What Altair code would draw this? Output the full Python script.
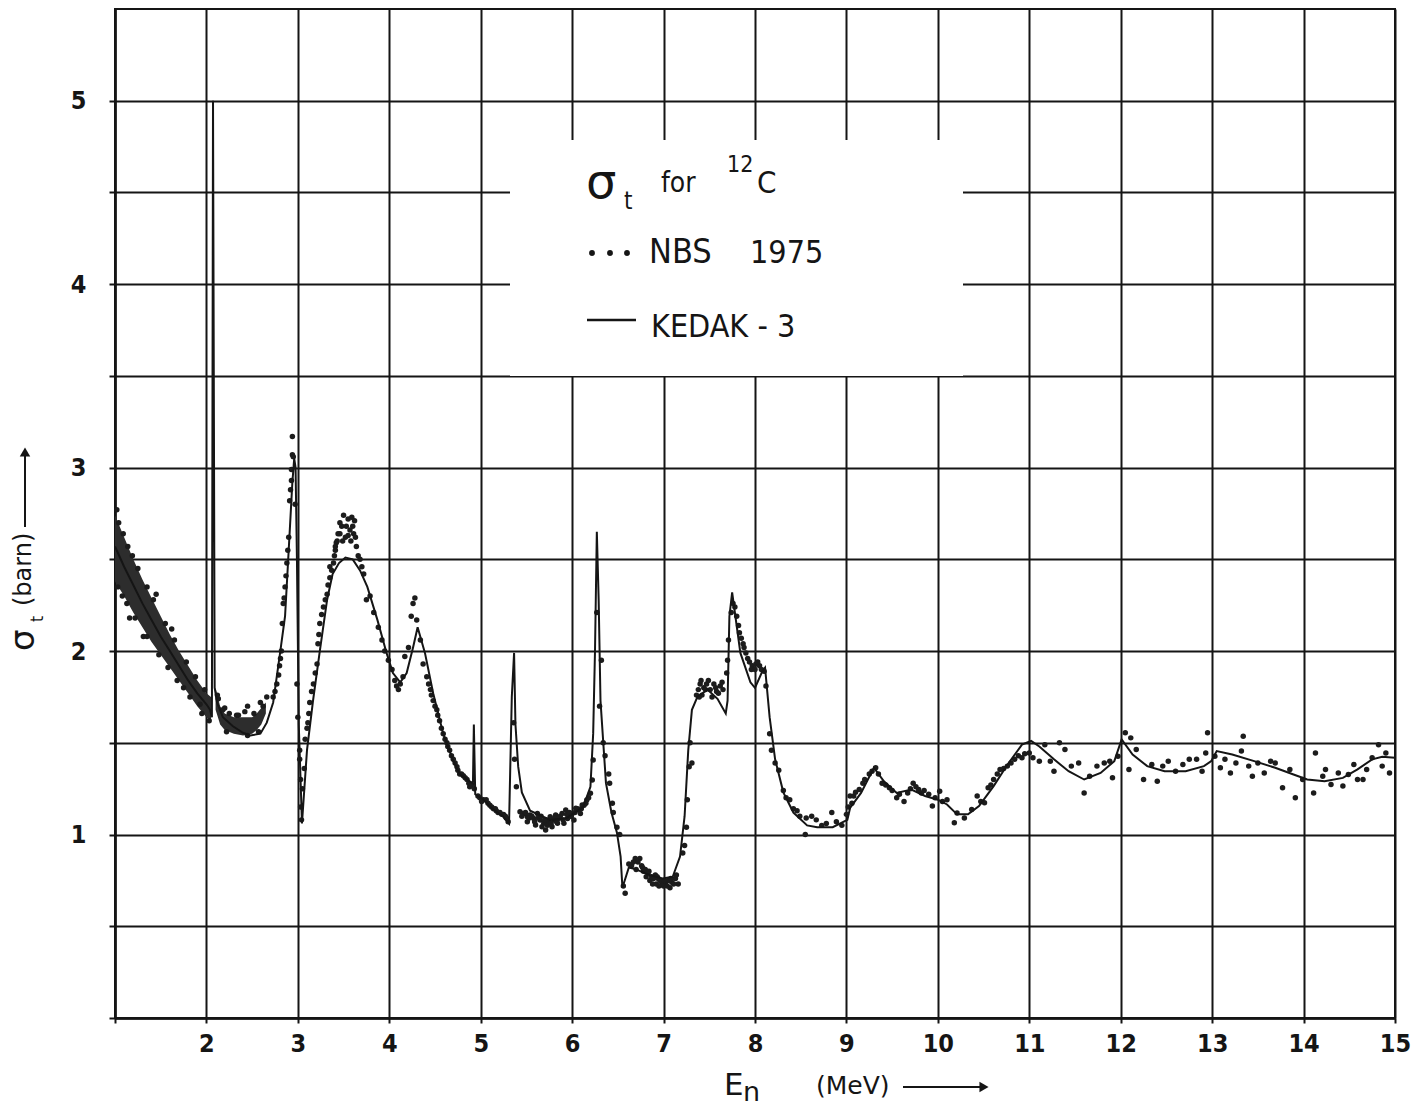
import altair as alt
import pandas as pd

# ---------------- data ----------------
# KEDAK-3 evaluated total cross section (solid curve)
kedak_e = [1.00, 1.10, 1.20, 1.30, 1.40, 1.50, 1.60, 1.70, 1.80, 1.90, 2.00, 2.04, 2.060,
           2.070, 2.072, 2.090, 2.116, 2.18, 2.29, 2.40, 2.48, 2.59, 2.66, 2.73, 2.80, 2.86,
           2.89, 2.94, 2.96, 2.975, 2.99, 3.01, 3.045, 3.10, 3.166, 3.24, 3.32, 3.38, 3.45,
           3.52, 3.60, 3.68, 3.76, 3.87, 3.97, 4.04, 4.12, 4.19, 4.26, 4.31, 4.39, 4.48,
           4.59, 4.70, 4.77, 4.88, 4.915, 4.925, 4.94, 5.03, 5.13, 5.24, 5.31, 5.34, 5.365,
           5.38, 5.41, 5.45, 5.54, 5.76, 5.94, 6.12, 6.20, 6.23, 6.25, 6.27, 6.29, 6.31,
           6.37, 6.43, 6.49, 6.53, 6.55, 6.62, 6.70, 6.84, 6.99, 7.10, 7.18, 7.23, 7.27,
           7.31, 7.37, 7.48, 7.59, 7.68, 7.70, 7.72, 7.75, 7.84, 7.95, 8.00, 8.08, 8.11,
           8.16, 8.22, 8.31, 8.42, 8.57, 8.68, 8.85, 9.01, 9.04, 9.16, 9.30, 9.41, 9.55,
           9.71, 9.86, 10.00, 10.10, 10.21, 10.33, 10.45, 10.61, 10.76, 10.92, 11.02, 11.11,
           11.27, 11.43, 11.60, 11.78, 11.93, 12.01, 12.13, 12.29, 12.48, 12.71, 12.91,
           12.99, 13.05, 13.22, 13.46, 13.69, 13.89, 14.04, 14.23, 14.43, 14.59, 14.75,
           14.86, 15.00]
kedak_s = [2.57, 2.46, 2.36, 2.26, 2.17, 2.08, 2.00, 1.92, 1.84, 1.77, 1.71, 1.68, 1.64,
           4.40, 5.00, 1.80, 1.72, 1.64, 1.59, 1.555, 1.54, 1.55, 1.61, 1.72, 1.97, 2.19,
           2.46, 2.92, 3.05, 3.00, 2.50, 1.60, 1.06, 1.46, 1.73, 2.00, 2.28, 2.42, 2.48,
           2.51, 2.50, 2.44, 2.35, 2.17, 1.99, 1.88, 1.83, 1.88, 2.02, 2.13, 1.99, 1.77,
           1.55, 1.40, 1.33, 1.29, 1.28, 1.60, 1.22, 1.19, 1.14, 1.10, 1.06, 1.75, 1.99,
           1.60, 1.37, 1.23, 1.13, 1.08, 1.09, 1.15, 1.26, 1.55, 2.00, 2.65, 2.28, 1.73,
           1.28, 1.12, 1.01, 0.88, 0.71, 0.82, 0.81, 0.78, 0.76, 0.77, 0.88, 1.10, 1.46,
           1.68, 1.75, 1.79, 1.74, 1.66, 1.73, 2.19, 2.32, 1.99, 1.83, 1.80, 1.89, 1.91,
           1.64, 1.41, 1.23, 1.12, 1.05, 1.04, 1.04, 1.08, 1.145, 1.227, 1.364, 1.29, 1.227,
           1.245, 1.21, 1.19, 1.164, 1.11, 1.11, 1.155, 1.264, 1.38, 1.49, 1.51, 1.48,
           1.41, 1.345, 1.30, 1.336, 1.40, 1.518, 1.436, 1.373, 1.345, 1.345, 1.373,
           1.40, 1.455, 1.436, 1.40, 1.364, 1.327, 1.30, 1.29, 1.309, 1.355, 1.41,
           1.424, 1.418]

# NBS 1975 measured points
nbs_e = [1.16, 1.31, 1.02, 1.75, 1.93, 1.45, 1.62,
         1.04, 1.09, 1.14, 1.19, 1.25, 1.35, 1.42, 1.55, 1.65, 1.78, 1.88, 1.98,
         1.03, 1.08, 1.13, 1.22, 1.35, 1.48, 1.58, 1.68, 1.82, 1.95, 2.03,
         2.13, 2.18, 2.25, 2.33, 2.52, 2.62, 2.22, 2.45, 2.57,
         2.42, 2.45, 2.59, 2.66, 2.35, 2.20, 2.12,
         2.73, 2.77, 2.80, 2.82, 2.83, 2.84, 2.86, 2.88, 2.90, 2.91, 2.93, 2.93, 2.94, 2.94, 2.95, 2.97,
         2.75, 2.79, 2.81, 2.85, 2.87, 2.89, 2.92,
         2.99, 3.00, 3.02, 3.03, 3.03, 3.04,
         3.02, 3.08, 3.11, 3.13, 3.17, 3.21, 3.22, 3.24, 3.28, 3.32, 3.35, 3.39, 3.41, 3.42, 3.46,
         3.48, 3.52, 3.55, 3.44, 3.46, 3.50, 3.53, 3.55, 3.59, 3.62, 3.64, 3.49, 3.41, 3.61, 3.35, 3.57,
         3.05, 3.07, 3.10, 3.12, 3.15, 3.19, 3.23, 3.26, 3.30, 3.33, 3.37, 3.40, 3.43, 3.58, 3.60,
         3.63, 3.66, 3.70,
         3.68, 3.72, 3.75, 3.79, 3.83, 3.88, 3.92, 3.95, 3.99, 4.03, 4.06, 4.08, 4.10, 4.12, 4.15,
         4.17, 4.21, 4.24, 4.26, 4.28, 4.30, 4.34, 4.37, 4.41, 4.45, 4.48, 4.52, 4.55, 4.59, 4.63,
         4.66, 4.70, 4.74, 4.77, 4.81, 4.85, 4.88,
         4.43, 4.46, 4.50, 4.53, 4.57, 4.61, 4.64, 4.68, 4.72, 4.75, 4.79, 4.83, 4.87, 4.90,
         4.97, 5.01, 5.06, 5.10, 5.14, 5.17, 5.21, 5.25, 5.28, 5.30, 5.36, 5.37, 5.39, 4.93,
         4.99, 5.03, 5.08, 5.12, 5.16, 5.19, 5.23, 5.27,
         5.43, 5.47, 5.51, 5.54, 5.58, 5.62, 5.65, 5.69, 5.71, 5.74, 5.76, 5.80, 5.82, 5.85, 5.89,
         5.91, 5.93, 5.96, 6.00, 6.04, 6.07, 6.11, 6.15, 6.16, 6.20, 6.22, 6.23, 5.51, 5.60, 5.67,
         5.72, 5.78, 5.84, 5.95, 6.02, 6.09,
         5.45, 5.49, 5.53, 5.56, 5.59, 5.63, 5.66, 5.70, 5.73, 5.77, 5.81, 5.83, 5.87, 5.90, 5.94,
         5.97, 5.99, 6.03, 6.06, 6.10, 6.13, 6.18,
         6.27, 6.32, 6.30, 6.34, 6.36, 6.40, 6.41, 6.44, 6.45, 6.49, 6.52, 6.56, 6.58,
         6.65, 6.69, 6.74, 6.70, 6.78, 6.83, 6.87, 6.91, 6.94, 6.98, 7.02, 7.05, 7.09, 7.13, 7.16,
         6.85, 6.92, 7.00, 7.07, 6.81, 6.76,
         6.62, 6.67, 6.72, 6.77, 6.80, 6.84, 6.89, 6.93, 6.96, 7.01, 7.04, 7.08, 7.11, 7.14, 6.88, 6.95,
         7.21, 7.23, 7.25, 7.26, 7.28, 7.29, 7.31,
         7.36, 7.40, 7.44, 7.47, 7.51, 7.55, 7.58, 7.62, 7.65, 7.42, 7.53,
         7.38, 7.41, 7.46, 7.49, 7.57, 7.60, 7.64, 7.39,
         7.69, 7.70, 7.71, 7.74, 7.76, 7.78, 7.80, 7.83, 7.87, 7.90, 7.94, 7.97, 8.01, 8.05, 8.10,
         8.12, 8.16, 8.18, 8.22, 8.26,
         7.82, 7.85, 7.88, 7.92, 7.96, 8.00, 8.03, 8.07,
         8.31, 8.34, 8.38, 8.42, 8.46, 8.49, 8.55, 8.56, 8.62, 8.67, 8.73, 8.78, 8.84, 8.89, 8.95, 9.00,
         9.04, 9.06, 9.08, 9.14, 9.20, 9.28, 9.32, 9.39, 9.47, 9.55, 9.63, 9.67, 9.73, 9.79, 9.82,
         9.02, 9.10, 9.18, 9.25, 9.35, 9.43, 9.50, 9.58, 9.70, 9.76, 9.85, 9.97, 10.05,
         9.90, 9.94, 10.02, 10.10, 10.18, 10.21, 10.29, 10.37, 10.43, 10.51, 10.55, 10.61, 10.68,
         10.47, 10.58, 10.65, 10.72, 10.80, 10.88, 10.95,
         10.76, 10.84, 10.92, 11.00, 11.04, 11.11, 11.17, 11.23, 11.27, 11.33, 11.39, 11.46, 11.54,
         11.60, 11.66, 11.74, 11.82, 11.88, 11.91, 11.97, 12.05, 12.11, 12.17, 12.09, 12.25, 12.34,
         12.40, 12.46, 12.52, 12.60, 12.68, 12.75, 12.83, 12.89, 12.93, 12.95, 13.03, 13.09, 13.14,
         13.20, 13.26, 13.32, 13.34, 13.40, 13.44, 13.50, 13.57, 13.64, 13.69, 13.77, 13.85, 13.91,
         13.99, 14.11, 14.13, 14.21, 14.24, 14.30, 14.38, 14.43, 14.49, 14.55, 14.59, 14.65, 14.69,
         14.75, 14.82, 14.86, 14.90, 14.94]
nbs_s = [2.18, 2.08, 2.77, 1.80, 1.71, 2.31, 2.12,
         2.70, 2.64, 2.57, 2.52, 2.45, 2.35, 2.28, 2.15, 2.06, 1.94, 1.86, 1.79,
         2.35, 2.30, 2.26, 2.18, 2.08, 1.98, 1.91, 1.84, 1.75, 1.66, 1.62,
         1.74, 1.68, 1.66, 1.65, 1.66, 1.70, 1.56, 1.54, 1.56,
         1.67, 1.70, 1.72, 1.75, 1.65, 1.69, 1.76,
         1.75, 1.82, 1.92, 2.00, 2.15, 2.26, 2.35, 2.48, 2.62, 2.82, 2.93, 2.99, 3.07, 3.17, 3.06, 2.80,
         1.78, 1.87, 1.96, 2.29, 2.41, 2.55, 2.88,
         1.82, 1.64, 1.46, 1.30, 1.15, 1.08,
         1.41, 1.52, 1.61, 1.72, 1.82, 1.93, 2.04, 2.15, 2.24, 2.31, 2.40, 2.48, 2.55, 2.59, 2.64,
         2.68, 2.62, 2.72, 2.64, 2.70, 2.74, 2.68, 2.63, 2.73, 2.71, 2.57, 2.60, 2.57, 2.64, 2.46, 2.66,
         1.25, 1.36, 1.58, 1.66, 1.78, 1.88, 2.09, 2.20, 2.28, 2.36, 2.44, 2.52, 2.60, 2.60, 2.68,
         2.62, 2.52, 2.46,
         2.50, 2.42, 2.28, 2.30, 2.21, 2.13, 2.06, 2.00, 1.95, 1.90, 1.84, 1.81, 1.79, 1.82, 1.86,
         1.97, 2.02, 2.19, 2.26, 2.29, 2.17, 2.06, 1.93, 1.86, 1.79, 1.73, 1.68, 1.62, 1.55, 1.50,
         1.46, 1.41, 1.37, 1.33, 1.32, 1.30, 1.26,
         1.82, 1.76, 1.70, 1.65, 1.58, 1.52, 1.48, 1.43, 1.39, 1.35, 1.33, 1.31, 1.28, 1.27,
         1.21, 1.18, 1.19, 1.16, 1.14, 1.13, 1.12, 1.11, 1.09, 1.07, 1.61, 1.41, 1.26, 1.25,
         1.20, 1.19, 1.17, 1.15, 1.14, 1.12, 1.11, 1.10,
         1.124, 1.115, 1.097, 1.106, 1.088, 1.115, 1.079, 1.061, 1.025, 1.07, 1.097, 1.079, 1.106,
         1.088, 1.115, 1.061, 1.134, 1.097, 1.115, 1.143, 1.134, 1.161, 1.17, 1.188, 1.225, 1.297,
         1.406, 1.07, 1.052, 1.043, 1.079, 1.043, 1.061, 1.088, 1.079, 1.115,
         1.10, 1.12, 1.09, 1.10, 1.07, 1.09, 1.10, 1.08, 1.05, 1.06, 1.09, 1.07, 1.10, 1.08, 1.11,
         1.12, 1.10, 1.12, 1.14, 1.14, 1.16, 1.20,
         2.21, 1.95, 1.70, 1.50, 1.43, 1.33, 1.28, 1.17, 1.12, 1.04, 1.00, 0.72, 0.68,
         0.83, 0.87, 0.87, 0.81, 0.80, 0.79, 0.77, 0.78, 0.76, 0.74, 0.73, 0.75, 0.74, 0.76, 0.73,
         0.75, 0.73, 0.72, 0.71, 0.77, 0.83,
         0.84, 0.85, 0.85, 0.82, 0.81, 0.80, 0.76, 0.77, 0.75, 0.75, 0.72, 0.76, 0.73, 0.78, 0.73, 0.72,
         0.90, 0.94, 1.04, 1.19, 1.37, 1.50, 1.39,
         1.76, 1.82, 1.80, 1.82, 1.79, 1.82, 1.78, 1.81, 1.79, 1.76, 1.75,
         1.79, 1.84, 1.79, 1.84, 1.80, 1.77, 1.83, 1.75,
         1.88, 1.95, 2.06, 2.21, 2.26, 2.24, 2.19, 2.10, 2.04, 1.99, 1.94, 1.92, 1.93, 1.92, 1.89,
         1.81, 1.55, 1.46, 1.39, 1.35,
         2.14, 2.07, 2.02, 1.96, 1.90, 1.90, 1.94, 1.90,
         1.24, 1.20, 1.19, 1.14, 1.13, 1.10, 1.00, 1.09, 1.10, 1.08, 1.05, 1.06, 1.12, 1.07, 1.05, 1.11,
         1.21, 1.17, 1.21, 1.245, 1.30, 1.345, 1.364, 1.28, 1.255, 1.20, 1.18, 1.227, 1.28, 1.245, 1.227,
         1.15, 1.23, 1.28, 1.33, 1.33, 1.27, 1.24, 1.22, 1.25, 1.26, 1.24, 1.20, 1.18,
         1.22, 1.155, 1.236, 1.19, 1.064, 1.118, 1.09, 1.136, 1.21, 1.173, 1.255, 1.30, 1.355,
         1.18, 1.27, 1.33, 1.36, 1.39, 1.43, 1.44,
         1.373, 1.41, 1.418, 1.445, 1.418, 1.40, 1.49, 1.40, 1.345, 1.50, 1.464, 1.373, 1.39,
         1.227, 1.318, 1.373, 1.39, 1.40, 1.31, 1.427, 1.555, 1.527, 1.464, 1.355, 1.30, 1.382,
         1.29, 1.373, 1.40, 1.345, 1.382, 1.41, 1.41, 1.345, 1.445, 1.555, 1.427, 1.364, 1.41,
         1.336, 1.39, 1.455, 1.536, 1.373, 1.318, 1.39, 1.336, 1.40, 1.39, 1.255, 1.355, 1.20,
         1.30, 1.227, 1.445, 1.318, 1.355, 1.273, 1.336, 1.264, 1.327, 1.382, 1.30, 1.30, 1.355,
         1.418, 1.49, 1.373, 1.445, 1.336]

# NBS points so dense that they merge into a solid band (upper / lower edge)
band_e = [1.00, 1.10, 1.20, 1.30, 1.40, 1.50, 1.60, 1.70, 1.80, 1.90, 2.00, 2.05,
          2.10, 2.15, 2.20, 2.30, 2.40, 2.50, 2.55, 2.60, 2.65]
band_hi = [2.74, 2.62, 2.50, 2.39, 2.29, 2.19, 2.09, 2.00, 1.92, 1.84, 1.77, 1.75,
           1.80, 1.70, 1.66, 1.64, 1.64, 1.64, 1.66, 1.69, 1.72]
band_lo = [2.38, 2.30, 2.21, 2.13, 2.05, 1.98, 1.91, 1.84, 1.77, 1.70, 1.64, 1.62,
           1.68, 1.60, 1.57, 1.55, 1.54, 1.55, 1.57, 1.60, 1.66]
band_seg = ["a"] * 12 + ["b"] * 9

x_ticks = list(range(1, 16))
y_ticks = [0, 0.5, 1, 1.5, 2, 2.5, 3, 3.5, 4, 4.5, 5]

kedak = pd.DataFrame({"e": kedak_e, "s": kedak_s})
nbs = pd.DataFrame({"e": nbs_e, "s": nbs_s})
band = pd.DataFrame({"e": band_e, "hi": band_hi, "lo": band_lo, "seg": band_seg})
one = pd.DataFrame({"k": [0]})

# ---------------- styling ----------------
INK = "#151515"
NARROW = "Liberation Sans Narrow, DejaVu Sans Condensed, Arial Narrow, sans-serif"
WIDE = "DejaVu Sans, Liberation Sans, sans-serif"
LEFT, TOP = 115, 9
W, H = 1280, 1009

xscale = alt.Scale(domain=[1, 15], nice=False, zero=False)
yscale = alt.Scale(domain=[0, 5.5], nice=False, zero=False)

common = dict(grid=True, gridColor=INK, gridWidth=2, gridOpacity=1,
              domainColor=INK, domainWidth=2.5, tickColor=INK, tickWidth=2,
              labelFont=NARROW, labelFontSize=25, labelFontWeight="bold",
              labelColor=INK, labelFlush=False, labelOverlap=False, title=None)
xaxis = alt.Axis(values=x_ticks, tickSize=5, labelPadding=8,
                 labelExpr="datum.value == 1 ? '' : '' + datum.value", **common)
yaxis = alt.Axis(values=y_ticks, tickSize=6, labelPadding=23,
                 labelExpr="(datum.value >= 1 && datum.value % 1 == 0) ? '' + datum.value : ''",
                 **common)

X = alt.X("e:Q", scale=xscale, axis=xaxis)
Y = alt.Y("s:Q", scale=yscale, axis=yaxis)

band_layer = alt.Chart(band).mark_area(color="#2d2d2d", opacity=1).encode(
    x=alt.X("e:Q", scale=xscale, axis=xaxis),
    y=alt.Y("hi:Q", scale=yscale, axis=yaxis),
    y2="lo:Q",
    detail="seg:N",
)
points = alt.Chart(nbs).mark_circle(size=30, color="#1c1c1c", opacity=1).encode(x=X, y=Y)
curve = alt.Chart(kedak).mark_line(color=INK, strokeWidth=2).encode(x=X, y=Y)


def txt(text, px, py, size, font=NARROW, weight="normal", angle=0, align="left",
        baseline="alphabetic"):
    return alt.Chart(one).mark_text(
        text=text, font=font, fontSize=size, fontWeight=weight, angle=angle,
        align=align, baseline=baseline, color=INK,
    ).encode(x=alt.value(px - LEFT), y=alt.value(py - TOP))


def dot(px, py, size=34):
    return alt.Chart(one).mark_circle(size=size, color=INK, opacity=1).encode(
        x=alt.value(px - LEFT), y=alt.value(py - TOP))


# legend box (white panel that interrupts the grid)
box = alt.Chart(one).mark_rect(color="white").encode(
    x=alt.value(510 - LEFT), x2=alt.value(963 - LEFT),
    y=alt.value(140 - TOP), y2=alt.value(376 - TOP))

legend_layers = [
    txt("σ", 586, 198, 48, font=WIDE),
    txt("t", 624, 209, 24),
    txt("for", 661, 192, 28),
    txt("12", 727, 172, 23),
    txt("C", 757, 193, 31),
    dot(592, 253), dot(610, 253), dot(627, 253),
    txt("NBS", 649, 263, 34),
    txt("1975", 750, 263, 32),
    alt.Chart(one).mark_rule(color=INK, strokeWidth=2.5).encode(
        x=alt.value(587 - LEFT), x2=alt.value(636 - LEFT), y=alt.value(320 - TOP)),
    txt("KEDAK - 3", 651, 337, 32),
]

# axis titles drawn as text so the subscripts and arrows can be reproduced
title_layers = [
    txt("E", 724, 1095, 31, font=WIDE),
    txt("n", 743, 1101, 27, font=WIDE),
    txt("(MeV)", 816, 1094, 25, font=WIDE),
    alt.Chart(one).mark_rule(color=INK, strokeWidth=2).encode(
        x=alt.value(903 - LEFT), x2=alt.value(982 - LEFT), y=alt.value(1087 - TOP)),
    alt.Chart(one).mark_point(shape="triangle-right", filled=True, size=110, color=INK,
                              opacity=1).encode(
        x=alt.value(984 - LEFT), y=alt.value(1087 - TOP)),
    txt("σ", 34, 651, 34, font=WIDE, angle=270),
    txt("t", 43, 622, 17, angle=270),
    txt("(barn)", 31, 606, 24, font=WIDE, angle=270),
    alt.Chart(one).mark_rule(color=INK, strokeWidth=2).encode(
        x=alt.value(25 - LEFT), y=alt.value(455 - TOP), y2=alt.value(527 - TOP)),
    alt.Chart(one).mark_point(shape="triangle-up", filled=True, size=110, color=INK,
                              opacity=1).encode(
        x=alt.value(25 - LEFT), y=alt.value(452 - TOP)),
]

chart = alt.layer(band_layer, points, curve, box, *legend_layers, *title_layers).properties(
    width=W, height=H,
    autosize=alt.AutoSizeParams(type="none"),
    padding={"left": LEFT, "top": TOP, "right": 1411 - LEFT - W, "bottom": 1107 - TOP - H},
    background="white",
).configure_view(stroke=INK, strokeWidth=2)

chart.save("out.html", embed_options={"renderer": "svg", "actions": False})
